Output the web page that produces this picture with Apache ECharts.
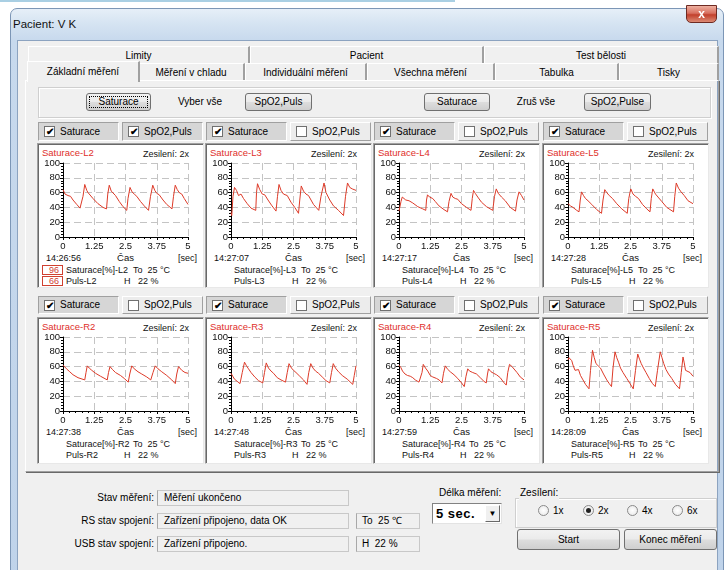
<!DOCTYPE html>
<html><head><meta charset="utf-8">
<script src="https://cdn.jsdelivr.net/npm/echarts@6/dist/echarts.min.js"></script>
<style>
html,body{margin:0;padding:0;width:724px;height:570px;overflow:hidden;background:#fff;font-family:"Liberation Sans",Arial,sans-serif;font-size:10px;color:#000}
.a{position:absolute;box-sizing:border-box}
.t{position:absolute;white-space:nowrap;line-height:14px;height:14px}
.btn{position:absolute;box-sizing:border-box;border:1px solid #707070;border-radius:3px;background:linear-gradient(#f2f2f2,#ebebeb 48%,#dddddd 52%,#cfcfcf);text-align:center}
.tab{position:absolute;box-sizing:border-box;background:#f0f0f0;border-top:1px solid #fff;border-left:1px solid #fff;border-right:2px solid #a0a0a0;text-align:center}
.cbb{position:absolute;box-sizing:border-box;border:1px solid;border-color:#fff #a0a0a0 #a0a0a0 #fff;background:#ececec}
.cbb.on{background:#d6d6d6;border-color:#a0a0a0 #fff #fff #a0a0a0}
.sq{position:absolute;box-sizing:border-box;width:11px;height:11px;border:1px solid #707070;background:#fff;font-size:10px;line-height:9px;text-align:center;font-weight:bold}
.box{position:absolute;box-sizing:border-box;border:1px solid #c8c8c8;border-left-color:#a8a8a8;background:#f0f0f0}
.radio{position:absolute;box-sizing:border-box;width:11px;height:11px;border-radius:50%;border:1px solid #8a8a8a;background:radial-gradient(#fff,#e6e6e6)}
</style></head><body>
<div id="ui"></div>
<div id="c" style="position:absolute;left:0;top:0;width:724px;height:570px;pointer-events:none"></div>
<script>
// ---------------- data ----------------
const panelNames = ['Saturace-L2','Saturace-L3','Saturace-L4','Saturace-L5','Saturace-R2','Saturace-R3','Saturace-R4','Saturace-R5'];
const sondes = ['L2','L3','L4','L5','R2','R3','R4','R5'];
const times = ['14:26:56','14:27:07','14:27:17','14:27:28','14:27:38','14:27:48','14:27:59','14:28:09'];
const xTickLabels = ['0','1.25','2.5','3.75','5'];
const yTickLabels = ['0','20','40','60','80','100'];
const spo2Checked = [true,false,false,false,false,false,false,false];
const spo2Values = ['96','66'];
const tempC = '25';
const humidity = '22';

const satL2 = [[0,64],[0.08,58],[0.2,56],[0.3,55],[0.4,50],[0.55,44],[0.68,39],[0.74,37],[0.8,55],[0.87,71],[0.95,63],[1.0,60],[1.08,59],[1.2,52],[1.4,45],[1.6,40],[1.74,38],[1.79,58],[1.85,70],[1.93,62],[2.0,60],[2.1,56],[2.25,48],[2.4,41],[2.55,36],[2.6,52],[2.68,67],[2.76,61],[2.85,58],[2.95,55],[3.1,48],[3.25,42],[3.42,36],[3.5,55],[3.59,70],[3.67,63],[3.75,59],[3.85,57],[4.0,50],[4.15,44],[4.36,38],[4.42,55],[4.49,70],[4.57,64],[4.65,60],[4.75,58],[4.85,52],[5,44]];
const satL3 = [[0,33],[0.03,29],[0.08,55],[0.14,67],[0.22,63],[0.3,56],[0.4,58],[0.5,52],[0.65,45],[0.8,39],[0.99,36],[1.02,60],[1.06,72],[1.15,64],[1.25,58],[1.35,57],[1.48,50],[1.62,43],[1.8,35],[1.86,55],[1.92,71],[2.0,63],[2.1,58],[2.25,56],[2.4,47],[2.55,40],[2.7,32],[2.75,50],[2.81,69],[2.9,62],[3.0,58],[3.1,56],[3.3,44],[3.51,36],[3.6,55],[3.72,73],[3.8,60],[3.95,50],[4.1,42],[4.3,36],[4.5,29],[4.58,55],[4.66,73],[4.75,67],[4.85,65],[5,63]];
const satL4 = [[0,35],[0.03,34],[0.08,48],[0.13,54],[0.2,53],[0.27,50],[0.4,49],[0.55,46],[0.75,41],[0.95,38],[1.07,36],[1.1,50],[1.14,57],[1.22,54],[1.35,52],[1.45,48],[1.6,42],[1.8,37],[1.94,34],[2.0,48],[2.08,59],[2.15,54],[2.25,52],[2.35,51],[2.5,45],[2.7,40],[2.88,36],[2.93,52],[2.98,63],[3.05,59],[3.15,54],[3.3,47],[3.5,41],[3.75,36],[3.82,55],[3.89,65],[3.97,59],[4.1,54],[4.25,49],[4.45,40],[4.66,35],[4.72,50],[4.8,61],[4.9,56],[5,50]];
const satL5 = [[0,45],[0.1,42],[0.2,40],[0.35,36],[0.44,34],[0.49,50],[0.54,61],[0.62,56],[0.7,52],[0.8,49],[0.95,44],[1.15,37],[1.34,32],[1.4,50],[1.47,64],[1.55,60],[1.65,56],[1.78,52],[1.95,45],[2.15,38],[2.37,32],[2.43,52],[2.51,65],[2.6,58],[2.7,55],[2.82,52],[2.98,44],[3.15,38],[3.28,34],[3.33,52],[3.39,65],[3.5,58],[3.6,54],[3.75,48],[3.95,40],[4.22,34],[4.27,55],[4.33,73],[4.42,66],[4.52,61],[4.65,56],[4.8,49],[5,45]];
const satR2 = [[0,62],[0.07,61],[0.14,57],[0.27,53],[0.4,49],[0.6,45],[0.87,42],[0.92,52],[0.97,61],[1.05,58],[1.15,55],[1.3,51],[1.5,47],[1.77,42],[1.82,52],[1.88,60],[1.98,56],[2.1,52],[2.3,48],[2.45,44],[2.61,39],[2.67,50],[2.75,61],[2.85,57],[3.0,53],[3.15,50],[3.35,46],[3.51,42],[3.6,52],[3.69,61],[3.8,57],[3.95,53],[4.15,48],[4.35,42],[4.49,37],[4.55,50],[4.62,60],[4.75,55],[4.88,52],[5,51]];
const satR3 = [[0,51],[0.07,47],[0.14,43],[0.25,40],[0.36,37],[0.45,52],[0.54,66],[0.62,61],[0.7,57],[0.8,52],[0.95,46],[1.1,41],[1.27,38],[1.34,52],[1.41,65],[1.5,58],[1.6,54],[1.7,51],[1.85,45],[2.0,42],[2.18,39],[2.25,52],[2.32,64],[2.42,58],[2.5,55],[2.6,52],[2.75,47],[2.9,42],[3.04,36],[3.11,52],[3.19,64],[3.28,58],[3.38,54],[3.5,51],[3.65,46],[3.8,41],[3.95,38],[4.02,52],[4.09,64],[4.18,58],[4.3,53],[4.45,48],[4.65,43],[4.87,36],[4.93,48],[5,61]];
const satR4 = [[0,62],[0.07,59],[0.14,54],[0.24,50],[0.34,48],[0.45,47],[0.55,45],[0.65,42],[0.8,39],[0.87,37],[0.92,52],[0.97,63],[1.06,58],[1.15,54],[1.25,48],[1.35,46],[1.5,44],[1.6,42],[1.72,38],[1.78,51],[1.85,61],[1.93,57],[2.05,53],[2.2,49],[2.35,44],[2.5,38],[2.61,33],[2.68,47],[2.75,57],[2.82,54],[2.95,52],[3.1,50],[3.25,45],[3.4,40],[3.49,38],[3.54,50],[3.58,57],[3.68,53],[3.78,51],[3.9,49],[4.05,45],[4.18,39],[4.29,35],[4.35,52],[4.42,63],[4.52,60],[4.6,58],[4.72,52],[4.85,46],[5,42]];
const satR5 = [[0,69],[0.04,72],[0.09,74],[0.15,68],[0.2,62],[0.28,55],[0.35,57],[0.42,56],[0.5,48],[0.6,42],[0.7,36],[0.84,30],[0.9,55],[0.98,82],[1.05,72],[1.12,64],[1.2,62],[1.3,58],[1.42,50],[1.55,42],[1.65,37],[1.74,33],[1.8,58],[1.88,80],[1.95,72],[2.02,66],[2.1,58],[2.2,52],[2.35,44],[2.48,37],[2.61,30],[2.7,55],[2.79,77],[2.86,70],[2.93,64],[3.02,58],[3.12,52],[3.25,44],[3.38,37],[3.49,33],[3.58,55],[3.69,80],[3.76,72],[3.83,64],[3.92,56],[4.02,50],[4.15,44],[4.3,36],[4.46,30],[4.53,52],[4.6,73],[4.65,65],[4.7,55],[4.78,53],[4.88,52],[4.95,50],[5,47]];
const allSeries = [satL2,satL3,satL4,satL5,satR2,satR3,satR4,satR5];

// ---------------- UI chrome ----------------
const ui = document.getElementById('ui');
function el(cls, x, y, w, h, style, html){
  const d=document.createElement('div'); d.className=cls;
  d.style.cssText=`left:${x}px;top:${y}px;`+(w!=null?`width:${w}px;`:'')+(h!=null?`height:${h}px;`:'')+(style||'');
  if(html!=null) d.innerHTML=html; ui.appendChild(d); return d;
}
function T(x,y,s,style){ return el('t',x,y-7,null,null,style||'',s); }
function TR(xr,y,s,style){ return el('t',0,y-7,null,null,'left:auto;right:'+(724-xr)+'px;'+(style||''),s); }
function TC(xc,y,s,style){ return el('t',xc-100,y-7,200,null,'text-align:center;'+(style||''),s); }

el('a',0,0,455,2,'background:#a9cfe3');
el('a',10,8,714,600,'border:1px solid #7c96b6;border-radius:7px 7px 0 0;background:linear-gradient(180deg,#e6eff8 0,#d6e4f2 14px,#c7d9ed 32px,#bfd3ea 100%)');
T(13,24,'Pacient: V K','font-size:11.5px;color:#111');
el('a',686,5,31,18,'border:1px solid #6e2a22;border-radius:0 0 5px 5px;background:linear-gradient(#eeb0a0,#d87060 45%,#c2402c 55%,#dc8a74);color:#fff;font-weight:bold;font-size:12px;text-align:center;line-height:16px;z-index:3','x');
el('a',17,40,701,540,'background:#f0f0f0;border:1px solid #8ca3c0');

el('a',25,80,694,392,'border:1px solid;border-color:#fff #a0a0a0 #a0a0a0 #fff;box-shadow:1px 1px 0 #696969');
[[28,250,'Limity'],[250,484,'Pacient'],[484,719,'Test bělosti']].forEach(t=>{
  el('tab',t[0],46,t[1]-t[0],18,'line-height:17px',t[2]);
});
[[28,138,'Základní měření'],[138,245,'Měření v chladu'],[245,367,'Individuální měření'],[367,495,'Všechna měření'],[495,619,'Tabulka'],[619,719,'Tisky']].forEach((t,i)=>{
  if(i===0) el('tab',t[0]-1,61,t[1]-t[0]+3,21,'line-height:19px;z-index:2;border-bottom:none',t[2]);
  else el('tab',t[0],63,t[1]-t[0],17,'line-height:17px',t[2]);
});

el('a',38,87,673,31,'border:1px solid #cfcfcf;box-shadow:inset 1px 1px 0 #fff, 1px 1px 0 #fff');
el('btn',86,93,65,18,'line-height:16px','Saturace');
el('a',89,96,59,12,'border:1px dotted #000');
TC(200,102,'Vyber vše');
el('btn',245,93,67,18,'line-height:16px','SpO2,Puls');
el('btn',424,93,66,18,'line-height:16px','Saturace');
TC(536,102,'Zruš vše');
el('btn',584,93,67,18,'line-height:16px','SpO2,Pulse');

const PL=[37,205,373,542];
const ROWS=[{cb:122,cbh:19,pt:143,ph:145,plot:163},{cb:296,cbh:18,pt:317,ph:147,plot:337}];
const PLOTW=125, PLOTH=74;
const CT='font-size:9px;color:#111';
for(let r=0;r<2;r++){
  for(let c=0;c<4;c++){
    const i=r*4+c, R=ROWS[r], x=PL[c];
    const sp=spo2Checked[i];
    el('cbb on',x+1,R.cb,81,R.cbh);
    el('sq',x+7,R.cb+(R.cbh-11)/2,null,null,'','✔');
    T(x+23,R.cb+R.cbh/2,'Saturace');
    el('cbb'+(sp?' on':''),x+85,R.cb,81,R.cbh);
    el('sq',x+91,R.cb+(R.cbh-11)/2,null,null,'',sp?'✔':'');
    T(x+107,R.cb+R.cbh/2,'SpO2,Puls');
    el('a',x,R.pt,167,R.ph,'background:#fff;border:1px solid;border-color:#a0a0a0 #e8e8e8 #e8e8e8 #a0a0a0;box-shadow:inset 1px 1px 0 #696969');
    const pxl=x+26, pb=R.plot+PLOTH;
    T(x+5,R.plot-10,panelNames[i],'color:#e0302a;font-size:9.5px');
    TR(pxl+PLOTW+1,R.plot-9,'Zesilení: 2x',CT);
    T(x+9,pb+21,times[i],CT);
    TC(pxl+PLOTW/2,pb+21,'Čas','font-size:9.5px;color:#111');
    TR(x+160,pb+21,'[sec]',CT);
    const tx=x+29;
    T(tx,pb+33,'Saturace[%]-'+sondes[i],CT);
    T(tx+67,pb+33,'To&nbsp; '+tempC+' °C',CT);
    T(tx,pb+44,'Puls-'+sondes[i],CT);
    T(tx+58,pb+44,'H&nbsp;&nbsp; '+humidity+' %',CT);
    if(sp){
      el('a',x+5,pb+28,21,10,'border:1px solid #d04030;color:#d04030;font-size:9px;line-height:8px;text-align:right;padding-right:3px',spo2Values[0]);
      el('a',x+5,pb+39,21,10,'border:1px solid #d04030;color:#d04030;font-size:9px;line-height:8px;text-align:right;padding-right:3px',spo2Values[1]);
    }
  }
}

TR(154,498,'Stav měření:');
el('box',157,490,192,16,'line-height:14px;padding-left:6px','Měření ukončeno');
TR(154,521,'RS stav spojení:');
el('box',157,513,192,16,'line-height:14px;padding-left:6px','Zařízení připojeno, data OK');
el('box',356,513,64,16,'line-height:14px;padding-left:5px','To&nbsp; 25 ℃');
TR(154,544,'USB stav spojení:');
el('box',157,536,192,16,'line-height:14px;padding-left:6px','Zařízení připojeno.');
el('box',356,536,64,16,'line-height:14px;padding-left:5px','H&nbsp; 22 %');

T(439,493,'Délka měření:');
el('a',432,503,70,21,'background:#fff;border:1px solid;border-color:#828282 #e3e3e3 #e3e3e3 #828282;font-weight:bold;font-size:13px;line-height:19px;padding-left:3px;letter-spacing:0.5px','5 sec.');
el('a',485,505,15,17,'background:#f0f0f0;border:1px solid;border-color:#fff #696969 #696969 #fff;font-size:8px;text-align:center;line-height:15px','▼');

el('a',515,498,202,30,'border:1px solid #cfcfcf;box-shadow:inset 1px 1px 0 #fff');
T(519,493,'Zesílení:','background:#f0f0f0;padding:0 1px');
[[538,'1x',false],[583,'2x',true],[627,'4x',false],[672,'6x',false]].forEach(r=>{
  el('radio',r[0],505);
  if(r[2]) el('a',r[0]+3,508,5,5,'border-radius:50%;background:#222');
  T(r[0]+15,511,r[1]);
});
el('btn',517,529,103,21,'line-height:19px','Start');
el('btn',624,529,93,21,'line-height:19px','Konec měření');

// ---------------- charts ----------------
const chart = echarts.init(document.getElementById('c'), null, {renderer:'canvas'});
const FF='"Liberation Sans", Arial, sans-serif';
const grids=[], xAxes=[], yAxes=[], series=[];
for(let i=0;i<8;i++){
  const r=Math.floor(i/4), c=i%4;
  grids.push({left:PL[c]+26, top:ROWS[r].plot, width:PLOTW, height:PLOTH, containLabel:false});
  xAxes.push({gridIndex:i,type:'value',min:0,max:5,interval:1.25,
    axisLine:{show:true,onZero:false,lineStyle:{color:'#000',width:1}},
    axisTick:{show:true,length:3,lineStyle:{color:'#000'}},
    minorTick:{show:true,splitNumber:5,length:2,lineStyle:{color:'#000'}},
    axisLabel:{fontSize:9.5,color:'#111',margin:4,fontFamily:FF,
      formatter:(v)=>xTickLabels[Math.round(v/1.25)]},
    splitLine:{show:true,lineStyle:{color:'#c4c4c4',type:[7,4]}}});
  yAxes.push({gridIndex:i,type:'value',min:0,max:100,interval:20,
    axisLine:{show:true,lineStyle:{color:'#000',width:1}},
    axisTick:{show:true,length:3,lineStyle:{color:'#000'}},
    minorTick:{show:true,splitNumber:5,length:2,lineStyle:{color:'#000'}},
    axisLabel:{fontSize:9.5,color:'#111',margin:3,fontFamily:FF,
      formatter:(v)=>yTickLabels[Math.round(v/20)]},
    splitLine:{show:true,lineStyle:{color:'#c4c4c4',type:[7,4]}}});
  series.push({type:'line',xAxisIndex:i,yAxisIndex:i,data:allSeries[i],showSymbol:false,
    lineStyle:{color:'#dd3a28',width:1},itemStyle:{color:'#dd3a28'},silent:true});
}
chart.setOption({animation:false,backgroundColor:'transparent',grid:grids,xAxis:xAxes,yAxis:yAxes,series:series});
</script></body></html>
